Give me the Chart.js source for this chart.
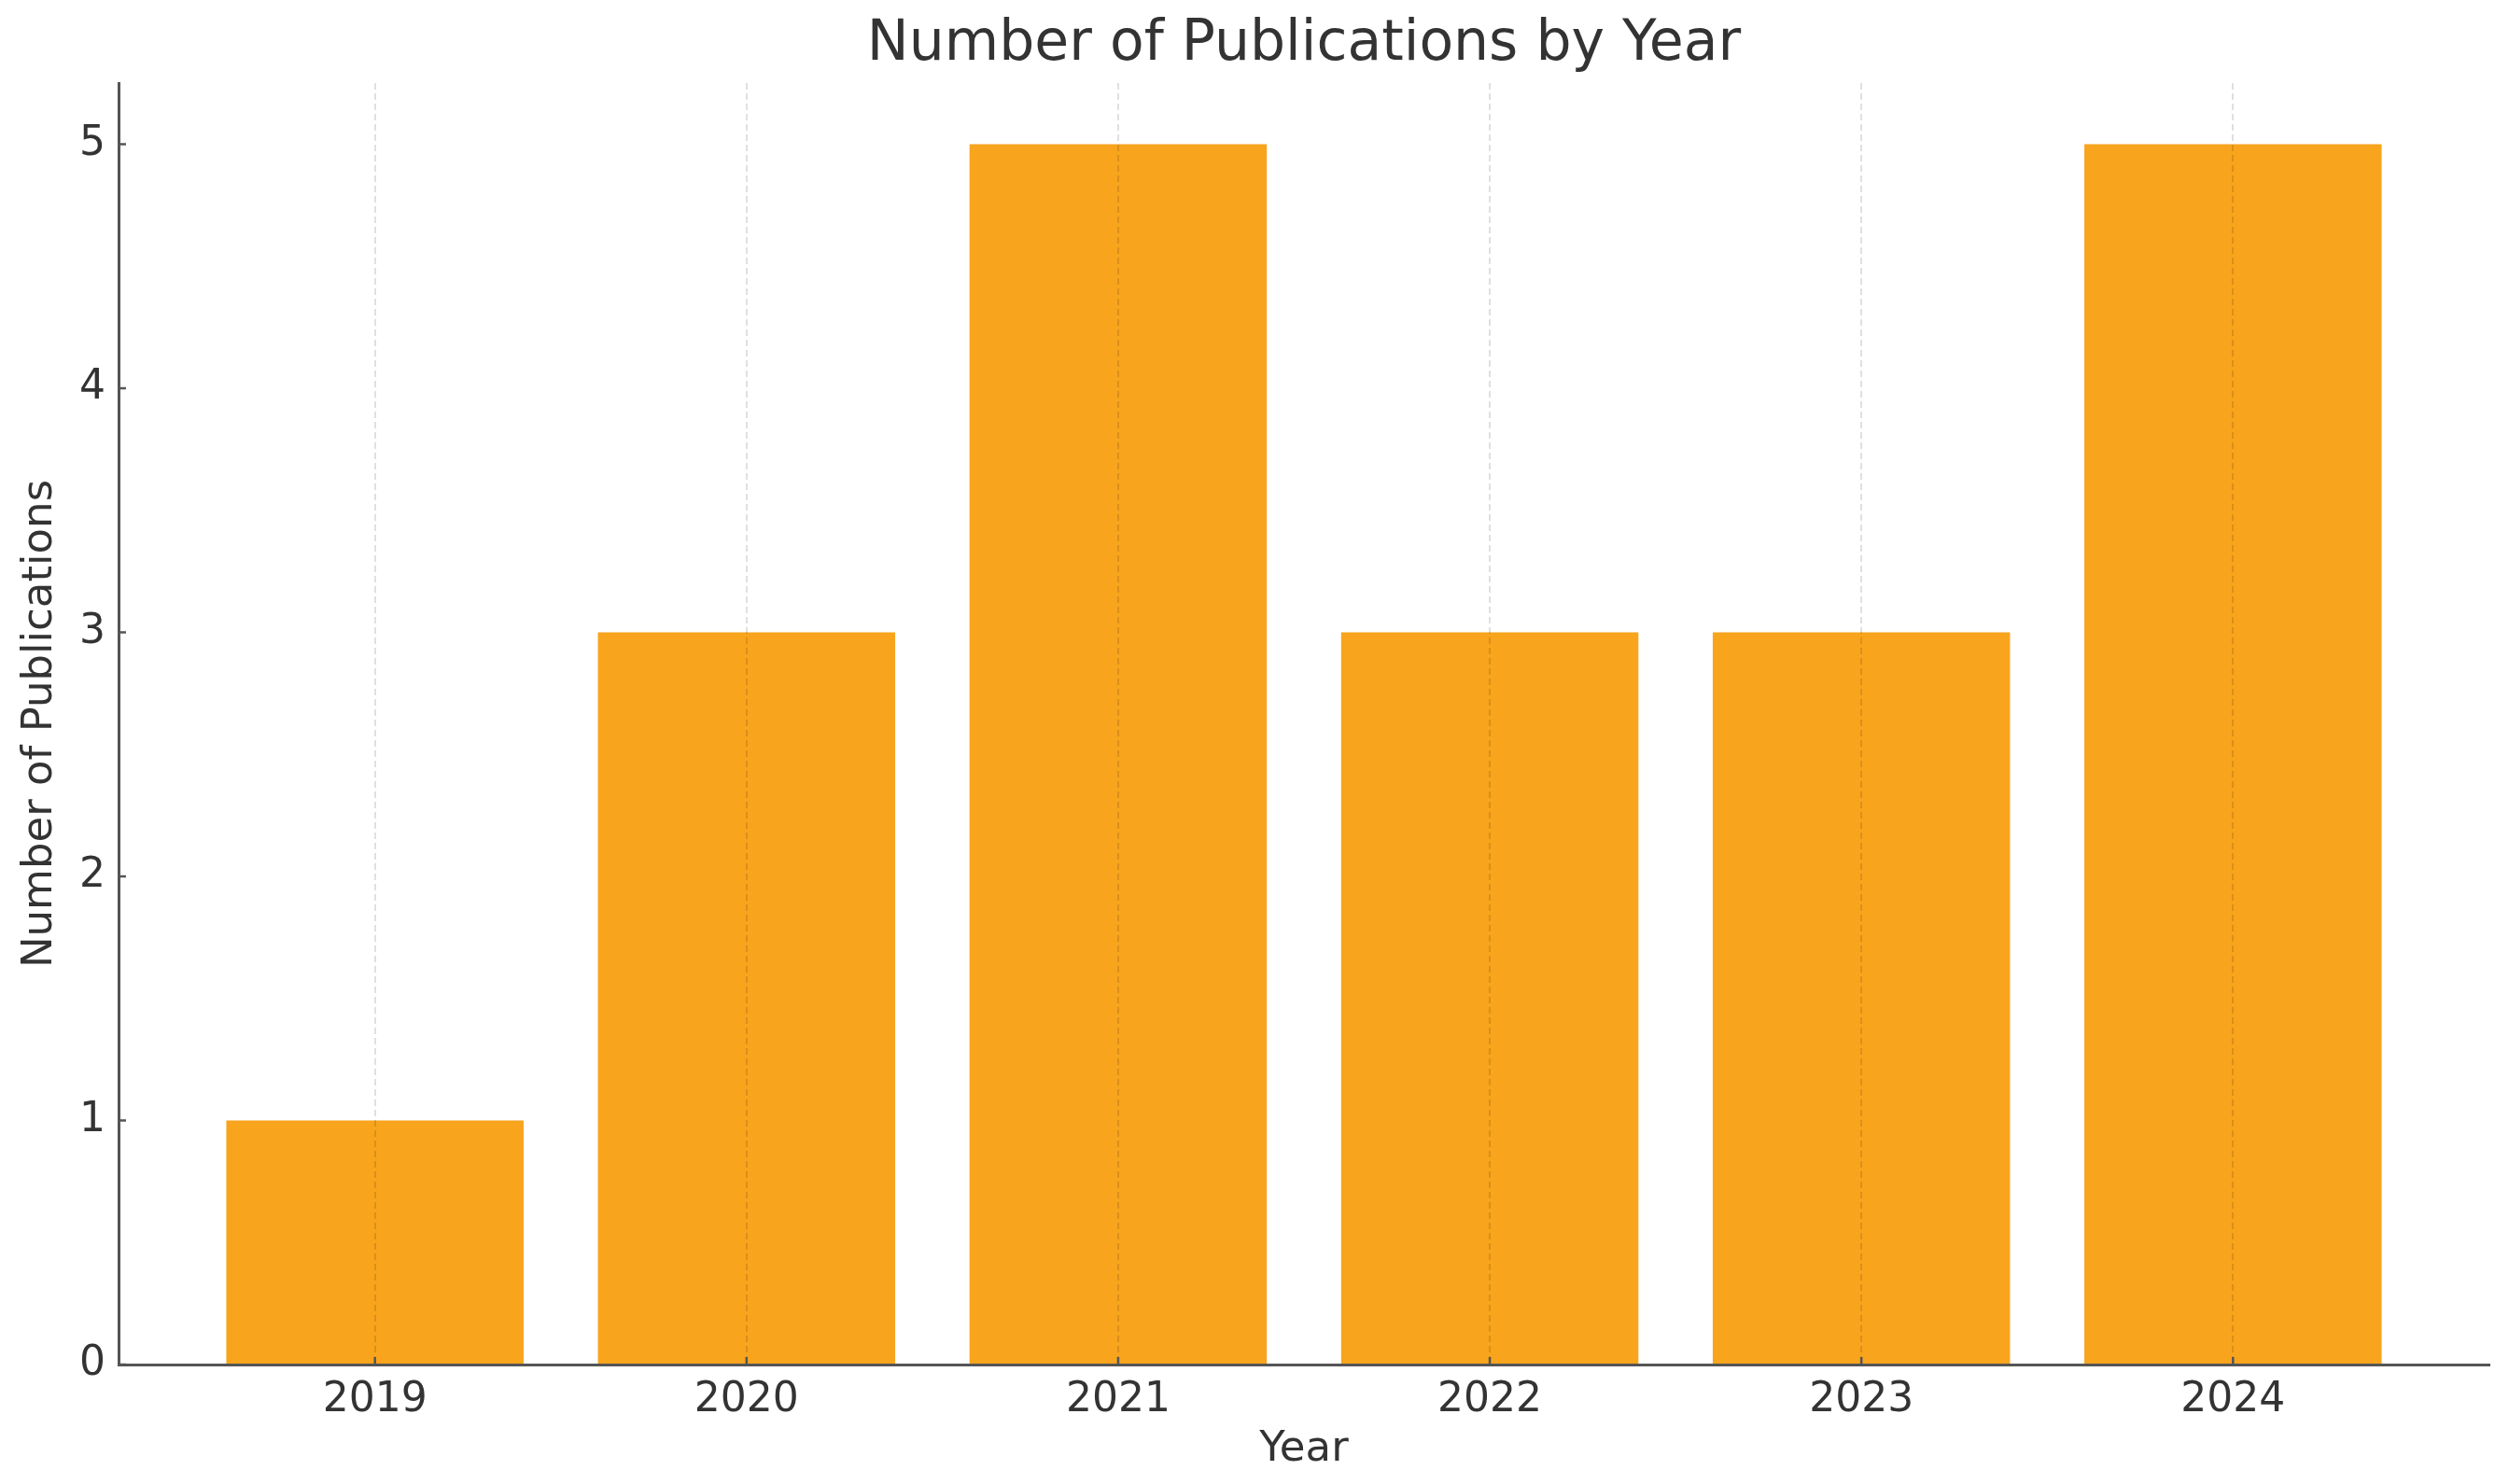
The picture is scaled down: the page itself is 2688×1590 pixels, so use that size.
<!DOCTYPE html>
<html>
<head>
<meta charset="utf-8">
<title>Number of Publications by Year</title>
<script src="https://cdn.jsdelivr.net/npm/chart.js@4.4.1/dist/chart.umd.min.js"></script>
<style>
    html, body { margin: 0; padding: 0; background: #fff; }
    #wrap { width: 2688px; height: 1590px; }
</style>
</head>
<body>
<div id="wrap"><canvas id="pubChart"></canvas></div>
<script>
var years = [2019, 2020, 2021, 2022, 2023, 2024];
var publications = [1, 3, 5, 3, 3, 5];
var yTicks = [0, 1, 2, 3, 4, 5];

var textColor = '#333333';
var axisColor = '#555555';

// short tick marks pointing into the plot, like the original
var innerTicks = {
    id: 'innerTicks',
    afterLayout: function(chart) {
        // centre the title over the plot area instead of the whole canvas
        var t = chart.titleBlock;
        if (t) {
            t.left = chart.chartArea.left;
            t.right = chart.chartArea.right;
            t.width = t.right - t.left;
        }
    },
    afterDraw: function(chart) {
        var ctx = chart.ctx;
        var xs = chart.scales.x, ys = chart.scales.y;
        ctx.save();
        ctx.strokeStyle = axisColor;
        ctx.lineWidth = 2.5;
        ctx.beginPath();
        xs.ticks.forEach(function(t, i) {
            var px = xs.getPixelForTick(i);
            ctx.moveTo(px, xs.top);
            ctx.lineTo(px, xs.top - 8);
        });
        ys.ticks.forEach(function(t, i) {
            var py = ys.getPixelForTick(i);
            ctx.moveTo(ys.right, py);
            ctx.lineTo(ys.right + 8, py);
        });
        ctx.stroke();
        ctx.restore();
    }
};

var ctx = document.getElementById('pubChart').getContext('2d');
new Chart(ctx, {
    type: 'bar',
    data: {
        datasets: [{
            label: 'Publications',
            data: years.map(function(y, i) { return { x: y, y: publications[i] }; }),
            backgroundColor: '#F8A41D',
            borderWidth: 0,
            barPercentage: 0.8,
            categoryPercentage: 1.0
        }]
    },
    options: {
        responsive: true,
        maintainAspectRatio: false,
        animation: false,
        layout: { padding: { left: 0, right: 21, top: 0, bottom: 0 } },
        scales: {
            x: {
                type: 'linear',
                min: 2018.31,
                max: 2024.69,
                offset: false,
                afterFit: function(scale) { scale.height = 128; },
                afterBuildTicks: function(scale) {
                    scale.ticks = years.map(function(v) { return { value: v }; });
                },
                grid: {
                    display: true,
                    offset: false,
                    drawTicks: false,
                    z: 1,
                    color: 'rgba(0, 0, 0, 0.12)',
                    lineWidth: 2
                },
                // in v4 border.dash dashes the grid lines, the axis line stays solid
                border: { display: true, color: axisColor, width: 3, dash: [7, 4], z: 1 },
                ticks: {
                    autoSkip: false,
                    padding: 12,
                    color: textColor,
                    font: { family: 'DejaVu Sans', size: 44 },
                    callback: function(value) { return String(value); }
                },
                title: {
                    display: true,
                    text: 'Year',
                    color: textColor,
                    font: { family: 'DejaVu Sans', size: 45 },
                    padding: { top: 0, bottom: 10 }
                }
            },
            y: {
                min: 0,
                max: 5.25,
                afterFit: function(scale) { scale.width = 127; },
                afterBuildTicks: function(scale) {
                    scale.ticks = yTicks.map(function(v) { return { value: v }; });
                },
                grid: { display: false, drawTicks: false },
                border: { display: true, color: axisColor, width: 3, z: 1 },
                ticks: {
                    padding: 14,
                    color: textColor,
                    font: { family: 'DejaVu Sans', size: 44 }
                },
                title: {
                    display: true,
                    text: 'Number of Publications',
                    color: textColor,
                    font: { family: 'DejaVu Sans', size: 45 },
                    padding: { top: 16, bottom: 0 }
                }
            }
        },
        plugins: {
            legend: { display: false },
            tooltip: { enabled: false },
            title: {
                display: true,
                text: 'Number of Publications by Year',
                color: textColor,
                font: { family: 'DejaVu Sans', size: 60, weight: 'normal' },
                padding: { top: 12, bottom: 5 }
            }
        }
    },
    plugins: [innerTicks]
});
</script>
</body>
</html>
